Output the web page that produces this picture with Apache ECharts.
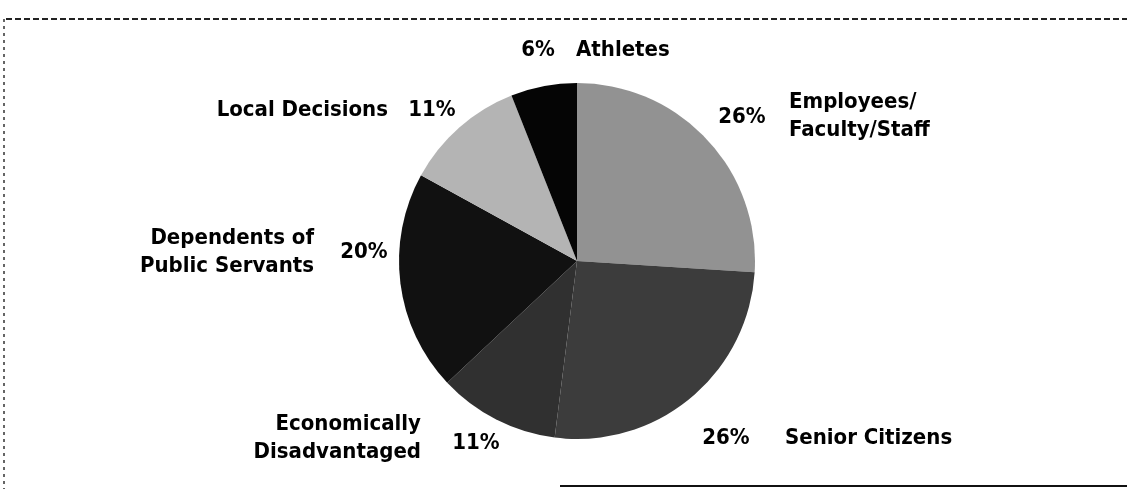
<!DOCTYPE html>
<html>
<head>
<meta charset="utf-8">
<script src="https://cdn.jsdelivr.net/npm/echarts@6/dist/echarts.min.js"></script>
<style>
  html, body { margin: 0; padding: 0; background: #fff; }
  #chart { width: 1127px; height: 489px; }
</style>
</head>
<body>
<div id="chart"></div>
<script>
// slices, clockwise from 12 o'clock
var names = ['Employees/\nFaculty/Staff', 'Senior Citizens', 'Economically\nDisadvantaged',
             'Dependents of\nPublic Servants', 'Local Decisions', 'Athletes'];
var percents = [26, 26, 11, 20, 11, 6];
var shades = ['#929292', '#3c3c3c', '#303030', '#111111', '#b4b4b4', '#050505'];

// where the texts sit (percent label, name label)
var pctSpot = [
    { x: 742, y: 117, align: 'center' },
    { x: 726, y: 438, align: 'center' },
    { x: 476, y: 443, align: 'center' },
    { x: 364, y: 252, align: 'center' },
    { x: 432, y: 110, align: 'center' },
    { x: 538, y: 50, align: 'center' }
];
var nameSpot = [
    { x: 789, y: 116, align: 'left' },
    { x: 785, y: 438, align: 'left' },
    { x: 421, y: 438, align: 'right' },
    { x: 314, y: 252, align: 'right' },
    { x: 388, y: 110, align: 'right' },
    { x: 576, y: 50, align: 'left' }
];

var fontFam = "'DejaVu Sans Condensed', 'Liberation Sans Narrow', sans-serif";

var myChart = echarts.init(document.getElementById('chart'));

var sliceData = [];
var ghostData = [];
for (var i = 0; i < names.length; i++) {
    sliceData.push({ name: names[i], value: percents[i], itemStyle: { color: shades[i] } });
    ghostData.push({ name: names[i], value: percents[i] });
}

var labelBase = {
    show: true,
    position: 'outside',
    color: '#000',
    fontFamily: fontFam,
    fontWeight: 'bold',
    fontSize: 22,
    lineHeight: 28
};

var option = {
    backgroundColor: '#fff',
    animation: false,
    graphic: [
        { type: 'line', shape: { x1: 6, y1: 19, x2: 1127, y2: 19 },
          style: { stroke: '#222', lineWidth: 2, lineDash: [6, 3] }, silent: true },
        { type: 'line', shape: { x1: 4, y1: 19, x2: 4, y2: 489 },
          style: { stroke: '#333', lineWidth: 1.5, lineDash: [3, 4] }, silent: true },
        { type: 'line', shape: { x1: 560, y1: 486, x2: 1127, y2: 486 },
          style: { stroke: '#111', lineWidth: 2 }, silent: true }
    ],
    series: [
        {
            name: 'percent',
            type: 'pie',
            center: [577, 261],
            radius: [0, 178],
            startAngle: 90,
            clockwise: true,
            silent: true,
            itemStyle: { borderWidth: 0 },
            label: Object.assign({}, labelBase, {
                formatter: function (p) { return p.value + '%'; }
            }),
            labelLine: { show: false },
            labelLayout: function (p) {
                var s = pctSpot[p.dataIndex];
                return { x: s.x, y: s.y, align: s.align, verticalAlign: 'middle' };
            },
            data: sliceData
        },
        {
            name: 'names',
            type: 'pie',
            center: [577, 261],
            radius: [0, 178],
            startAngle: 90,
            clockwise: true,
            silent: true,
            itemStyle: { color: 'rgba(0,0,0,0)', borderWidth: 0 },
            label: Object.assign({}, labelBase, {
                formatter: function (p) { return p.name; }
            }),
            labelLine: { show: false },
            labelLayout: function (p) {
                var s = nameSpot[p.dataIndex];
                return { x: s.x, y: s.y, align: s.align, verticalAlign: 'middle' };
            },
            data: ghostData
        }
    ]
};

myChart.setOption(option);
</script>
</body>
</html>
